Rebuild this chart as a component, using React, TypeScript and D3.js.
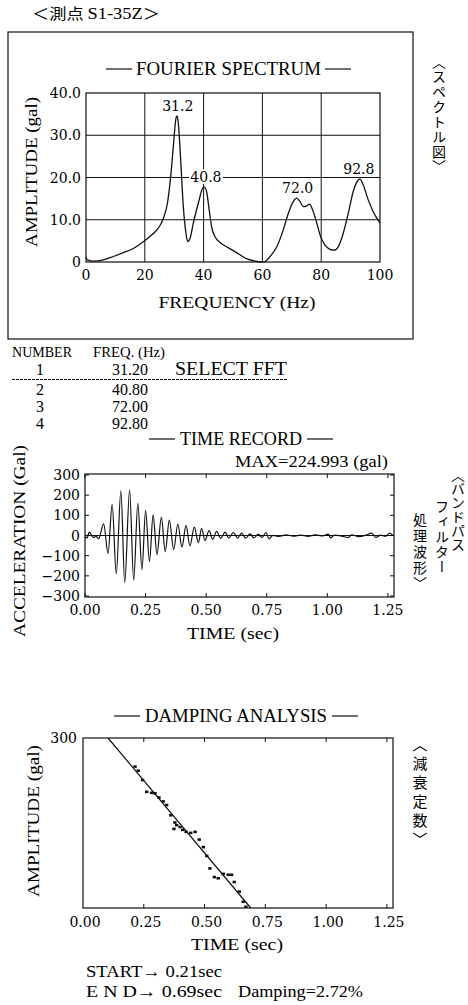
import React from 'react';
import * as d3 from 'd3';

const SERIF = '"Liberation Serif", "DejaVu Serif", serif';
const NUM = '"DejaVu Serif", "Liberation Serif", serif';
const JP = '"Noto Sans CJK JP", sans-serif';
const INK = '#111';

// ---- Fourier spectrum ----
const specFreq = [0, 0.45, 2.5, 5.9, 9.3, 12.7, 16.1, 19.5, 22.3, 24.6, 26.3, 27.7, 28.8, 29.7, 30.6, 31.0, 31.4, 32.2, 33.1, 34.0, 34.6, 35.4, 36.5, 38.2, 39.7, 40.2, 41.0, 41.9, 42.7, 43.9, 45.6, 47.8, 50.1, 52.4, 54.6, 57.5, 59.8, 60.9, 62.6, 64.9, 67.1, 68.8, 70.5, 71.7, 72.8, 73.9, 75.1, 76.0, 77.0, 78.5, 79.8, 81.3, 83.0, 84.4, 85.8, 87.5, 89.2, 90.9, 92.6, 93.2, 94.3, 96.0, 97.7, 100];
const specAmp = [1.2, 0.5, 0.2, 0.5, 1.3, 2.2, 3.2, 4.8, 6.4, 8.0, 10.3, 13.9, 20.2, 27.3, 34.0, 34.6, 32.9, 24.2, 13.1, 6.8, 4.8, 5.6, 9.2, 13.9, 17.5, 17.7, 16.7, 12.3, 8.4, 6.0, 4.6, 3.6, 2.7, 1.7, 0.8, 0.2, 0, 0.1, 1.3, 3.6, 7.6, 11.5, 14.3, 15.1, 14.3, 13.1, 13.3, 13.7, 12.5, 9.2, 6.0, 4.0, 3.0, 2.8, 3.6, 6.8, 11.5, 16.7, 19.4, 19.6, 18.2, 14.7, 11.9, 9.2];
const peakFreq = [31.2, 40.8, 72.0, 92.8];
const peakAmp = [34.6, 17.7, 15.1, 19.6];
const peakLabel = ['31.2', '40.8', '72.0', '92.8'];
const specXTicks = [0, 20, 40, 60, 80, 100];
const specYTicks = [0, 10, 20, 30, 40];
const specYLabels = ['0', '10.0', '20.0', '30.0', '40.0'];

// ---- selection table ----
const tableNo = ['1', '2', '3', '4'];
const tableFreq = ['31.20', '40.80', '72.00', '92.80'];

// ---- band-pass filtered time record: extrema ----
const recT = [0, 0.008, 0.018, 0.028, 0.036, 0.045, 0.056, 0.077, 0.095, 0.112, 0.129, 0.148, 0.164, 0.184, 0.201, 0.218, 0.235, 0.25, 0.266, 0.281, 0.297, 0.315, 0.331, 0.348, 0.366, 0.383, 0.4, 0.417, 0.433, 0.451, 0.468, 0.481, 0.495, 0.512, 0.527, 0.543, 0.56, 0.578, 0.593, 0.612, 0.63, 0.646, 0.663, 0.681, 0.697, 0.715, 0.731, 0.747, 0.759, 0.775, 0.8, 0.83, 0.86, 0.89, 0.92, 0.95, 0.98, 1.004, 1.013, 1.03, 1.06, 1.086, 1.1, 1.13, 1.16, 1.183, 1.2, 1.22, 1.24, 1.258, 1.27];
const recA = [-5, -12, 17, 0, -10, -3, -16, 58, -90, 155, -190, 222, -234, 225, -222, 160, -170, 125, -130, 102, -95, 90, -80, 76, -70, 57, -58, 50, -52, 42, -36, 36, -24, 24, -19, 20, -14, 17, -13, 15, -13, 12, -13, 8, -12, 7, -10, 15, -17, 1, -4, 3, -3, 2, -4, 3, -2, 7, -12, 2, -3, -10, 3, -6, 2, 12, -10, 2, -4, 12, 0];
const timeTicks = [0, 0.25, 0.5, 0.75, 1.0, 1.25];
const timeLabels = ['0.00', '0.25', '0.50', '0.75', '1.00', '1.25'];
const recYTicks = [300, 200, 100, 0, -100, -200, -300];
const recYLabels = ['300', '200', '100', '0', '\u2212100', '\u2212200', '\u2212300'];

// ---- damping analysis: peak amplitudes (log axis) and fitted line ----
const dampT = [0.214, 0.227, 0.245, 0.262, 0.282, 0.296, 0.3125, 0.33, 0.344, 0.361, 0.378, 0.385, 0.374, 0.399, 0.41, 0.424, 0.443, 0.461, 0.478, 0.495, 0.509, 0.522, 0.54, 0.556, 0.577, 0.597, 0.611, 0.622, 0.643, 0.659, 0.67];
const dampA = [177, 164, 138, 111, 109, 108, 100, 93, 87, 72, 63, 60, 56, 58, 55, 53, 52, 53, 46, 40, 34, 27, 23, 22.5, 24.4, 24, 24, 21, 17.6, 14.6, 13.3];
const fitT = [0.103, 0.69];
const fitA = [300, 13];

const TitleBar = ({ cx, y, text, width, gap }: any) => (
  <g>
    <line x1={cx - width / 2 - gap - 26} x2={cx - width / 2 - gap} y1={y - 6} y2={y - 6} stroke={INK} strokeWidth={1.2} />
    <text x={cx} y={y} textAnchor="middle" fontFamily={SERIF} fontSize={18} textLength={width} lengthAdjust="spacingAndGlyphs">{text}</text>
    <line x1={cx + width / 2 + gap} x2={cx + width / 2 + gap + 26} y1={y - 6} y2={y - 6} stroke={INK} strokeWidth={1.2} />
  </g>
);

const VText = ({ x, y, text, size, spacing }: any) => (
  <text x={x} y={y} fontFamily={JP} fontSize={size} style={{ writingMode: 'vertical-rl', letterSpacing: spacing }}>{text}</text>
);

const Spectrum = () => {
  const x = d3.scaleLinear().domain([0, 100]).range([86, 380]);
  const y = d3.scaleLinear().domain([0, 40]).range([262, 93]);
  const line = d3.line<number>().x((_, i) => x(specFreq[i])).y((_, i) => y(specAmp[i])).curve(d3.curveMonotoneX);
  return (
    <g>
      <rect x={8} y={32} width={405} height={307} fill="none" stroke={INK} strokeWidth={1.2} />
      <TitleBar cx={228.5} y={75} text="FOURIER SPECTRUM" width={185} gap={4} />
      {specXTicks.slice(1, -1).map(t => (
        <line key={'gx' + t} x1={x(t)} x2={x(t)} y1={y(40)} y2={y(0)} stroke={INK} strokeWidth={1} />
      ))}
      {specYTicks.slice(1, -1).map(t => (
        <line key={'gy' + t} x1={x(0)} x2={x(100)} y1={y(t)} y2={y(t)} stroke={INK} strokeWidth={1} />
      ))}
      <rect x={x(0)} y={y(40)} width={x(100) - x(0)} height={y(0) - y(40)} fill="none" stroke={INK} strokeWidth={1.2} />
      {/* label 40.8 sits on the 20.0 grid line with a white patch */}
      <rect x={x(peakFreq[1]) - 17} y={y(peakAmp[1]) - 18} width={34} height={15} fill="#fff" />
      <path d={line(specFreq) || ''} fill="none" stroke={INK} strokeWidth={1.3} />
      {peakFreq.map((f, i) => (
        <text key={f} x={x(f)} y={y(peakAmp[i]) - 5} textAnchor="middle" fontFamily={NUM} fontSize={14}>{peakLabel[i]}</text>
      ))}
      {specYTicks.map((t, i) => (
        <text key={'yl' + t} x={81} y={y(t)} dy="0.36em" textAnchor="end" fontFamily={NUM} fontSize={14}>{specYLabels[i]}</text>
      ))}
      {specXTicks.map(t => (
        <text key={'xl' + t} x={x(t)} y={280} textAnchor="middle" fontFamily={NUM} fontSize={14}>{t}</text>
      ))}
      <text x={237} y={308} textAnchor="middle" fontFamily={SERIF} fontSize={17} textLength={157} lengthAdjust="spacingAndGlyphs">FREQUENCY (Hz)</text>
      <text transform="translate(37,172) rotate(-90)" textAnchor="middle" fontFamily={SERIF} fontSize={17} textLength={150} lengthAdjust="spacingAndGlyphs">AMPLITUDE (gal)</text>
    </g>
  );
};

const Table = () => {
  const rowY = [375, 395, 412, 429];
  return (
    <g fontFamily={SERIF}>
      <text x={12} y={357} fontSize={15} textLength={60} lengthAdjust="spacingAndGlyphs">NUMBER</text>
      <text x={93} y={357} fontSize={15} textLength={72} lengthAdjust="spacingAndGlyphs">FREQ. (Hz)</text>
      {tableNo.map((n, i) => (
        <g key={n}>
          <text x={40} y={rowY[i]} textAnchor="middle" fontSize={16}>{n}</text>
          <text x={148} y={rowY[i]} textAnchor="end" fontSize={16}>{tableFreq[i]}</text>
        </g>
      ))}
      <text x={175} y={rowY[0]} fontSize={18} textLength={112} lengthAdjust="spacingAndGlyphs">SELECT FFT</text>
      <line x1={12} x2={287} y1={379.5} y2={379.5} stroke={INK} strokeWidth={1} strokeDasharray="3,1" />
    </g>
  );
};

const TimeRecord = () => {
  const x = d3.scaleLinear().domain([0, 1.275]).range([85, 394]);
  const y = d3.scaleLinear().domain([-300, 300]).range([596, 475]);
  const line = d3.line<number>().x((_, i) => x(recT[i])).y((_, i) => y(recA[i])).curve(d3.curveMonotoneX);
  return (
    <g>
      <TitleBar cx={241} y={445} text="TIME RECORD" width={122} gap={5} />
      <text x={235} y={467} fontFamily={SERIF} fontSize={17} textLength={153} lengthAdjust="spacingAndGlyphs">MAX=224.993 (gal)</text>
      <rect x={85} y={474} width={309} height={123} fill="none" stroke={INK} strokeWidth={1.2} />
      <line x1={85} x2={394} y1={y(0)} y2={y(0)} stroke={INK} strokeWidth={1} />
      {recYTicks.map(t => (
        <g key={'t' + t}>
          <line x1={85} x2={89} y1={y(t)} y2={y(t)} stroke={INK} />
          <line x1={390} x2={394} y1={y(t)} y2={y(t)} stroke={INK} />
        </g>
      ))}
      {timeTicks.map(t => (
        <g key={'xt' + t}>
          <line x1={x(t)} x2={x(t)} y1={474} y2={478} stroke={INK} />
          <line x1={x(t)} x2={x(t)} y1={593} y2={597} stroke={INK} />
        </g>
      ))}
      <path d={line(recT) || ''} fill="none" stroke={INK} strokeWidth={1.2} />
      {recYTicks.map((t, i) => (
        <text key={'yl' + t} x={80} y={y(t)} dy="0.36em" textAnchor="end" fontFamily={NUM} fontSize={14}>{recYLabels[i]}</text>
      ))}
      {timeTicks.map((t, i) => (
        <text key={'xl' + t} x={x(t)} y={615} textAnchor="middle" fontFamily={NUM} fontSize={14}>{timeLabels[i]}</text>
      ))}
      <text x={233} y={639} textAnchor="middle" fontFamily={SERIF} fontSize={17} textLength={92} lengthAdjust="spacingAndGlyphs">TIME (sec)</text>
      <text transform="translate(25,541) rotate(-90)" textAnchor="middle" fontFamily={SERIF} fontSize={17} textLength={192} lengthAdjust="spacingAndGlyphs">ACCELERATION (Gal)</text>
    </g>
  );
};

const Damping = () => {
  const x = d3.scaleLinear().domain([0, 1.275]).range([83, 393]);
  const y = d3.scaleLog().domain([13, 300]).range([908, 738]);
  const fit = d3.line<number>().x((_, i) => x(fitT[i])).y((_, i) => y(fitA[i]));
  return (
    <g>
      <TitleBar cx={236} y={722} text="DAMPING ANALYSIS" width={182} gap={5} />
      <rect x={83} y={738} width={310} height={170} fill="none" stroke={INK} strokeWidth={1.2} />
      {timeTicks.slice(1).map(t => (
        <g key={'xt' + t}>
          <line x1={x(t)} x2={x(t)} y1={738} y2={742} stroke={INK} />
          <line x1={x(t)} x2={x(t)} y1={904} y2={908} stroke={INK} />
        </g>
      ))}
      <path d={fit(fitT) || ''} fill="none" stroke={INK} strokeWidth={1.2} />
      {dampT.map((t, i) => (
        <rect key={i} x={x(t) - 1.7} y={y(dampA[i]) - 1.3} width={3.4} height={2.6} fill={INK} />
      ))}
      <text x={77} y={y(300)} dy="0.36em" textAnchor="end" fontFamily={NUM} fontSize={14}>300</text>
      {timeTicks.map((t, i) => (
        <text key={'xl' + t} x={x(t) + 2} y={927} textAnchor="middle" fontFamily={NUM} fontSize={14}>{timeLabels[i]}</text>
      ))}
      <text x={237} y={950} textAnchor="middle" fontFamily={SERIF} fontSize={17} textLength={92} lengthAdjust="spacingAndGlyphs">TIME (sec)</text>
      <text transform="translate(39,821) rotate(-90)" textAnchor="middle" fontFamily={SERIF} fontSize={17} textLength={152} lengthAdjust="spacingAndGlyphs">AMPLITUDE (gal)</text>
      <text x={86} y={977} fontFamily={SERIF} fontSize={17} textLength={136} lengthAdjust="spacingAndGlyphs">START{'\u2192'} 0.21sec</text>
      <text x={86} y={997} fontFamily={SERIF} fontSize={17} textLength={136} lengthAdjust="spacingAndGlyphs">E N D{'\u2192'} 0.69sec</text>
      <text x={238} y={997} fontFamily={SERIF} fontSize={17} textLength={125} lengthAdjust="spacingAndGlyphs">Damping=2.72%</text>
    </g>
  );
};

export default function App() {
  return (
    <svg width={468} height={1005} style={{ position: 'absolute', left: 0, top: 0, background: '#fff' }}>
      <text x={32} y={19} fontSize={15} textLength={128} lengthAdjust="spacingAndGlyphs">
        <tspan fontFamily={JP}>＜測点 </tspan>
        <tspan fontFamily={SERIF} fontSize={16}>S1-35Z</tspan>
        <tspan fontFamily={JP}>＞</tspan>
      </text>
      <Spectrum />
      <Table />
      <TimeRecord />
      <Damping />
      <VText x={439} y={55} text="〈スペクトル図〉" size={14} spacing={1} />
      <VText x={458} y={468} text="〈バンドパス" size={14} spacing={0} />
      <VText x={442} y={500} text="フィルター" size={14} spacing={1} />
      <VText x={420} y={513} text="処理波形〉" size={14} spacing={2} />
      <VText x={420} y={737} text="〈減衰定数〉" size={15} spacing={4} />
    </svg>
  );
}
